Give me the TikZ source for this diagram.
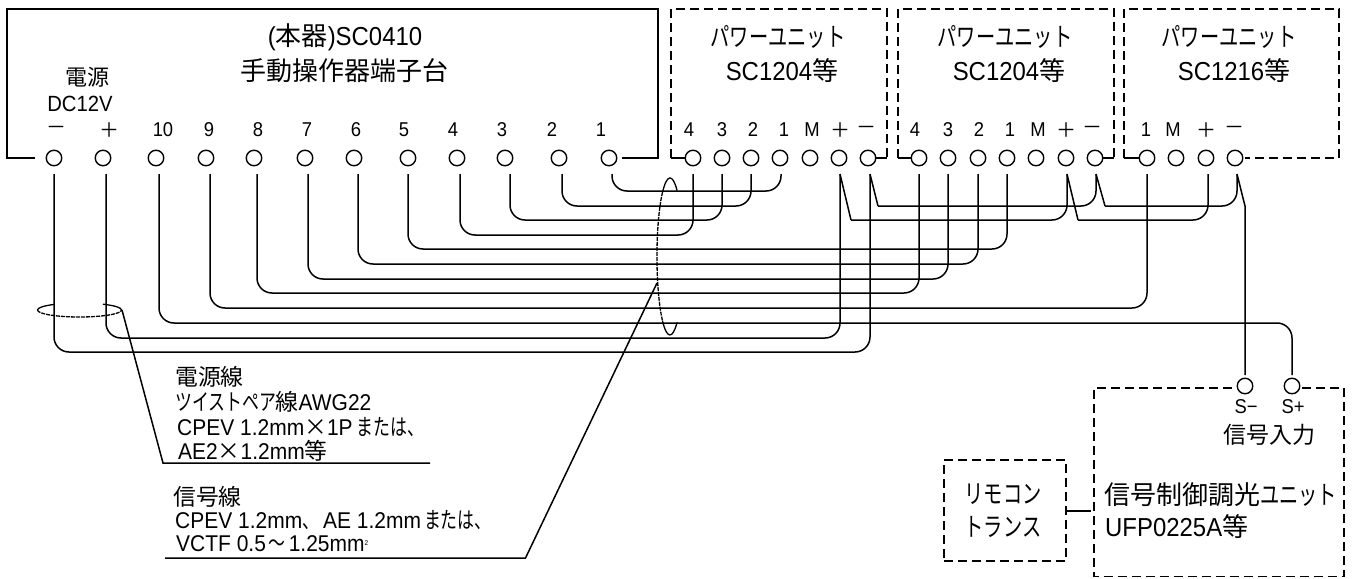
\documentclass[tikz,border=0pt]{standalone}
\usepackage{fontspec}
\setmainfont[FakeStretch=0.92]{Liberation Sans}
\newfontfamily\jp{Noto Sans CJK JP}
\newfontfamily\jpk[FakeStretch=0.74]{Noto Sans CJK JP}
\newcommand{\J}[1]{{\jp #1}}
\newcommand{\K}[1]{{\jpk #1}}
\tikzset{
  wire/.style={line width=1.5pt,rounded corners=15pt},
  seg/.style={line width=1.5pt,line join=miter},
  box/.style={line width=1.5pt},
  dbox/.style={line width=1.5pt,dash pattern=on 9pt off 5pt},
  term/.style={circle,draw,line width=1.4pt,minimum size=15.5pt,inner sep=0pt},
  ring/.style={line width=1.3pt},
  ringd/.style={line width=1.3pt,dash pattern=on 4pt off 1pt},
  lab/.style={font=\fontsize{20}{20}\selectfont,inner sep=0pt},
  ttl/.style={font=\fontsize{26}{26}\selectfont,inner sep=0pt},
  note/.style={font=\fontsize{22.8}{23}\selectfont,inner sep=0pt,anchor=west,text height=16pt,text depth=0pt},
  notes/.style={font=\fontsize{22}{22}\selectfont,inner sep=0pt,anchor=west,text height=14pt,text depth=0pt},
  small/.style={font=\fontsize{20}{20}\selectfont,inner sep=0pt},
}
\begin{document}
\begin{tikzpicture}[x=1pt,y=-1pt]
\useasboundingbox (0,0) rectangle (1354,578);
% boxes
\draw[box] (35,158) -- (7,158) -- (7,9) -- (658,9) -- (658,158) -- (622,158);
\draw[dbox] (671,158) -- (671,9) -- (887,9) -- (887,158);
\draw[dbox] (898,158) -- (898,9) -- (1114,9) -- (1114,158);
\draw[dbox] (1124,158) -- (1124,9) -- (1339,9) -- (1339,158) -- (1245,158);
\draw[box] (671,158) -- (685,158);
\draw[box] (887,158) -- (876,158);
\draw[box] (898,158) -- (912,158);
\draw[box] (1114,158) -- (1102,158);
\draw[box] (1124,158) -- (1140,158);
\draw[dbox] (1232,388) -- (1094,388) -- (1094,576.5) -- (1344,576.5) -- (1344,388) -- (1300,388);
\node[inner sep=0pt,minimum width=122pt,minimum height=101pt,draw,dbox] (rem) at (1005,510.5) {};
\coordinate (unitl) at (1091,511);
% terminals
\foreach \n/\x in {m-/54,mp/103,m10/156,m9/206,m8/254,m7/305,m6/354,m5/408,m4/457,m3/505,m2/559,m1/609,
 a4/693,a3/722,a2/751,a1/780,aM/810,ap/839,am/868,
 b4/919,b3/948,b2/978,b1/1007,bM/1036,bp/1066,bm/1095,
 c1/1147,cM/1176,cp/1206,cm/1235}
  {\node[term,fill=white] (\n) at (\x,158) {};}
\node[term,fill=white] (sm) at (1245,386) {};
\node[term,fill=white] (sp) at (1292,386) {};
% wire start coords
\foreach \n/\x in {w1/612,w2/562,w3/510,w4/460,w5/408,w6/358,w7/308,w8/257,w9/210,w10/159,wp/106,wm/54,
  ea4/693,ea3/722,ea2/751,ea1/781,eb4/919,eb3/948,eb2/978,eb1/1007,ec1/1147,
  ep/840,em/870,fp/1067,fm/1096,gp/1208,gm/1237}
  {\coordinate (\n) at (\x,174);}
\draw[wire] (w1) -- (w1|-0,191) -- (ea1|-0,191) -- (ea1);
\draw[wire] (w2) -- (w2|-0,206) -- (ea2|-0,206) -- (ea2);
\draw[wire] (w3) -- (w3|-0,220) -- (ea3|-0,220) -- (ea3);
\draw[wire] (w4) -- (w4|-0,235) -- (ea4|-0,235) -- (ea4);
\draw[wire] (w5) -- (w5|-0,249) -- (eb1|-0,249) -- (eb1);
\draw[wire] (w6) -- (w6|-0,264) -- (eb2|-0,264) -- (eb2);
\draw[wire] (w7) -- (w7|-0,279) -- (eb3|-0,279) -- (eb3);
\draw[wire] (w8) -- (w8|-0,293) -- (eb4|-0,293) -- (eb4);
\draw[wire] (w9) -- (w9|-0,308) -- (ec1|-0,308) -- (ec1);
\draw[wire] (w10) -- (w10|-0,323) -- (1292,323) -- (1292,375);
\draw[wire] (wp) -- (wp|-0,338) -- (ep|-0,338) -- (ep);
\draw[wire] (wm) -- (wm|-0,352) -- (em|-0,352) -- (em);
% daisy chain
\coordinate (d1) at (851,220); \coordinate (d2) at (878,206);
\coordinate (d3) at (1078,220); \coordinate (d4) at (1105,206);
\coordinate (d5) at (1245,206); \coordinate (d6) at (1245,375);
\draw[seg] (ep) -- (d1);
\draw[wire] (d1) -- (fp|-d1) -- (fp);
\draw[seg] (em) -- (d2);
\draw[wire] (d2) -- (fm|-d2) -- (fm);
\draw[seg] (fp) -- (d3);
\draw[wire] (d3) -- (gp|-d3) -- (gp);
\draw[seg] (fm) -- (d4);
\draw[wire] (d4) -- (gm|-d4) -- (gm);
\draw[seg] (gm) -- (d5) -- (d6);
\draw[box] (rem.east|-unitl) -- (unitl);
% ellipses
\draw[ringd] (37.5,310) arc[start angle=180,end angle=0,x radius=42,y radius=7];
\draw[ring] (37.5,310) arc[start angle=-180,end angle=-126,x radius=42,y radius=7];
\draw[ring] (121.5,310) arc[start angle=0,end angle=-56,x radius=42,y radius=7];
\draw[ring] (677.1,190.6) arc[start angle=-57,end angle=-125,x radius=13,y radius=78.5];
\draw[ringd] (662.5,192.2) arc[start angle=-125,end angle=-235,x radius=13,y radius=78.5];
\draw[ring] (662.5,320.8) arc[start angle=-235,end angle=-303,x radius=13,y radius=78.5];
% leaders
\coordinate (l1) at (122,310); \coordinate (l2) at (163,463); \coordinate (l3) at (430,463);
\draw[seg] (l1) -- (l2) -- (l3);
\coordinate (s1) at (657,283); \coordinate (s2) at (525.5,558); \coordinate (s3) at (165,558);
\draw[seg] (s1) -- (s2) -- (s3);
% titles
\node[ttl] (t1) at (345,37) {(\J{本器})SC0410};
\node[ttl] (t2) at (344,71) {\J{手動操作器端子台}};
\node[ttl] (p1) at (778,37) {\K{パワーユニット}};
\node[ttl] (p2) at (782,71) {SC1204\J{等}};
\node[ttl] (q1) at (1005,37) {\K{パワーユニット}};
\node[ttl] (q2) at (1009,71) {SC1204\J{等}};
\node[ttl] (r1) at (1229,37) {\K{パワーユニット}};
\node[ttl] (r2) at (1234,71) {SC1216\J{等}};
\node[lab,font=\fontsize{22}{22}\selectfont] (dg) at (87,77) {\J{電源}};
\node[lab,font=\fontsize{22}{22}\selectfont] (dc) at (80,104) {DC12V};
\foreach \n/\x/\s in {l-/56/\J{－},lp/109/\J{＋},l10/163/10,l9/209/9,l8/258/8,l7/307/7,l6/356/6,l5/404/5,l4/453/4,l3x/502/3,l2x/552/2,l1x/601/1,
 a4l/689/4,a3l/722/3,a2l/753/2,a1l/784/1,aMl/812/M,apl/840/\J{＋},aml/866/\J{－},
 b4l/915/4,b3l/948/3,b2l/979/2,b1l/1010/1,bMl/1038/M,bpl/1066/\J{＋},bml/1092/\J{－},
 c1l/1146/1,cMl/1173/M,cpl/1206/\J{＋},cml/1234/\J{－}}
  {\node[lab] (\n) at (\x,130) {\s};}
% notes
\node[note] (n1) at (175,377) {\J{電源線}};
\node[note] (n2) at (175,402) {\K{ツイストペア}\J{線}AWG22};
\node[note] (n3) at (177,427) {CPEV 1.2mm\J{×}1P\hspace{4pt}\K{または、}};
\node[note] (n4) at (178,451) {AE2\J{×}1.2mm\J{等}};
\node[note] (n5) at (173,497) {\J{信号線}};
\node[notes,font=\fontsize{22.8}{22}\selectfont] (n6) at (175,521) {CPEV 1.2mm\K{、}\hspace{4pt}AE 1.2mm\hspace{3pt}\K{または、}};
\node[notes,font=\fontsize{22.8}{22}\selectfont] (n7) at (176,544) {VCTF 0.5\hspace{3pt}\K{～}\hspace{3pt}1.25mm\raisebox{6pt}{\fontsize{7}{7}\selectfont 2}};
% unit text
\node[small] (sml) at (1246,407) {S−};
\node[small] (spl) at (1293,407) {S+};
\node[ttl,font=\fontsize{23}{23}\selectfont] (sig) at (1269,435) {\J{信号入力}};
\node[ttl] (rm1) at (1003,494) {\K{リモコン}};
\node[ttl] (rm2) at (1003,527) {\K{トランス}};
\node[ttl,anchor=west] (u1) at (1104,495) {\J{信号制御調光}\K{ユニット}};
\node[ttl,anchor=west] (u2) at (1105,527) {UFP0225A\J{等}};
\end{tikzpicture}
\end{document}
